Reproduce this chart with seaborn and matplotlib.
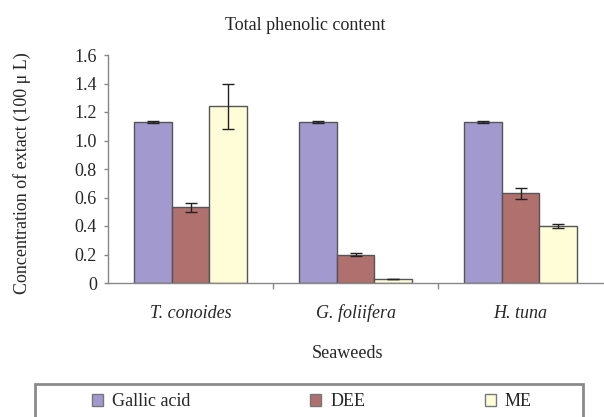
import matplotlib
matplotlib.use('Agg')
import matplotlib.pyplot as plt
import matplotlib.patches as mpatches
from matplotlib.ticker import FuncFormatter, FixedLocator
import pandas as pd
import seaborn as sns

# Data
seaweeds = ['T. conoides', 'G. foliifera', 'H. tuna']
extracts = ['Gallic acid', 'DEE', 'ME']
gallic = [1.13, 1.13, 1.13]
dee = [0.53, 0.20, 0.63]
me = [1.24, 0.03, 0.40]
gallic_err = [0.01, 0.01, 0.01]
dee_err = [0.03, 0.01, 0.04]
me_err = [0.16, 0.0, 0.015]
colors = ['#A29ACF', '#B0706E', '#FFFDD8']

df = pd.DataFrame({
    'seaweed': seaweeds * 3,
    'extract': [e for e in extracts for _ in seaweeds],
    'value': gallic + dee + me,
})
errs = [gallic_err, dee_err, me_err]

sns.set_style('white')
plt.rcParams['font.family'] = ['Liberation Serif', 'DejaVu Serif']
fs = 13

fig = plt.figure(figsize=(6.04, 4.17), dpi=100)
ax = fig.add_axes([108 / 604, 1 - 283 / 417, 495 / 604, 228 / 417])

sns.barplot(data=df, x='seaweed', y='value', hue='extract', order=seaweeds,
            hue_order=extracts, palette=colors, width=0.68, saturation=1,
            edgecolor='#555555', linewidth=1, legend=False, ax=ax)

# error bars on top of each bar
for cont, err in zip(ax.containers, errs):
    xs = [b.get_x() + b.get_width() / 2 for b in cont]
    hs = [b.get_height() for b in cont]
    ax.errorbar(xs, hs, yerr=err, fmt='none', ecolor='#222222',
                elinewidth=1, capsize=4, capthick=1)

ax.set_xlim(-0.5, 2.5)
ax.set_ylim(0, 1.6)
ax.set_yticks([0, 0.2, 0.4, 0.6, 0.8, 1.0, 1.2, 1.4, 1.6])
ax.yaxis.set_major_formatter(FuncFormatter(lambda v, p: '0' if v == 0 else f'{v:.1f}'))
ax.tick_params(axis='y', left=True, length=3, width=1, color='#888888',
               labelsize=fs, pad=5)
ax.tick_params(axis='x', which='major', bottom=False, labelsize=fs, pad=12)
ax.xaxis.set_minor_locator(FixedLocator([0.5, 1.5]))
ax.tick_params(axis='x', which='minor', bottom=True, length=4, width=1,
               color='#888888')
for lab in ax.get_xticklabels():
    lab.set_fontstyle('italic')

for s in ['top', 'right']:
    ax.spines[s].set_visible(False)
for s in ['left', 'bottom']:
    ax.spines[s].set_color('#888888')
    ax.spines[s].set_linewidth(1)

ax.set_xlabel('Seaweeds', fontsize=fs)
ax.xaxis.set_label_coords(0.5 - 8 / 495, (283 - 345) / 228)
ax.set_ylabel('Concentration of extact (100 \u03bc L)', fontsize=fs)
ax.yaxis.set_label_coords((31 - 108) / 495, 0.48)
fig.text(305 / 604, 1 - 25 / 417, 'Total phenolic content', ha='center',
         va='center', fontsize=fs)

# legend box running off the bottom edge
frame = mpatches.Rectangle((35 / 604, -0.05), 548 / 604, 0.05 + 1 - 384 / 417,
                           transform=fig.transFigure, fill=False,
                           edgecolor='#8a8a8a', linewidth=2)
fig.patches.append(frame)
handles = [mpatches.Patch(facecolor=c, edgecolor='#777777', label=l)
           for c, l in zip(colors, extracts)]
fig.legend(handles=handles, loc='center left', ncol=3, mode='expand',
           bbox_to_anchor=(92 / 604, 1 - 402 / 417, 440 / 604, 0.001),
           frameon=False, fontsize=fs, handlelength=0.6, handleheight=0.6,
           handletextpad=0.5, borderpad=0, borderaxespad=0)

fig.savefig('out.png', dpi=100)
